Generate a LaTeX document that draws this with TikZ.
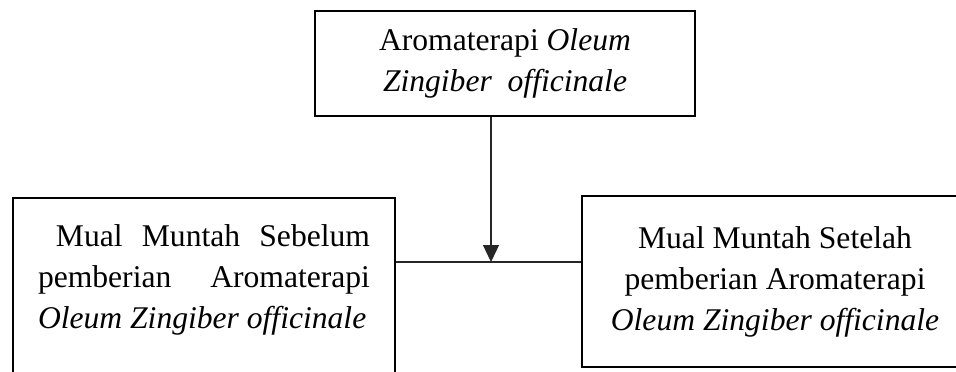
\documentclass[tikz,border=0pt]{standalone}
\usepackage{fontspec}
\setmainfont{Liberation Serif}
\usetikzlibrary{arrows.meta,fit}

\tikzset{
  box/.style={draw, line width=1pt},
  teks/.style={font=\fontsize{15.8}{20.5}\selectfont},
  link/.style={line width=0.6pt, draw=black!85}
}

\begin{document}
\begin{tikzpicture}[x=0.5pt, y=-0.5pt]
    \clip (0,0) rectangle (956,371);
    \node[box, teks, anchor=north west, minimum width=190pt, minimum height=52.5pt, align=center] (aroma) at (314,10)
      {Aromaterapi \textit{Oleum}\\ \textit{Zingiber\ \ officinale}};
    \node[box, teks, anchor=north west, minimum width=191pt, text width=166pt, align=justify, inner ysep=13.5pt, text depth=100pt] (sebelum) at (12,197)
      {\hspace*{9pt}Mual Muntah Sebelum pemberian Aromaterapi \textit{Oleum Zingiber officinale}};
    % kotak kanan terpotong di tepi gambar
    \node[box, inner sep=0pt, fit={(582,196) (1000,367)}] (setelah) {};
    \node[teks, align=center] (setelahteks) at (775,282)
      {Mual Muntah Setelah\\ pemberian Aromaterapi\\ \textit{Oleum Zingiber officinale}};
    \coordinate (joint) at (491,262);
    \draw[link] (sebelum.east |- joint) -- (setelah.west |- joint);
    \draw[link, -{Triangle[width=8pt, length=8.5pt]}] (aroma.south -| joint) -- (joint);
  \end{tikzpicture}
\end{document}
